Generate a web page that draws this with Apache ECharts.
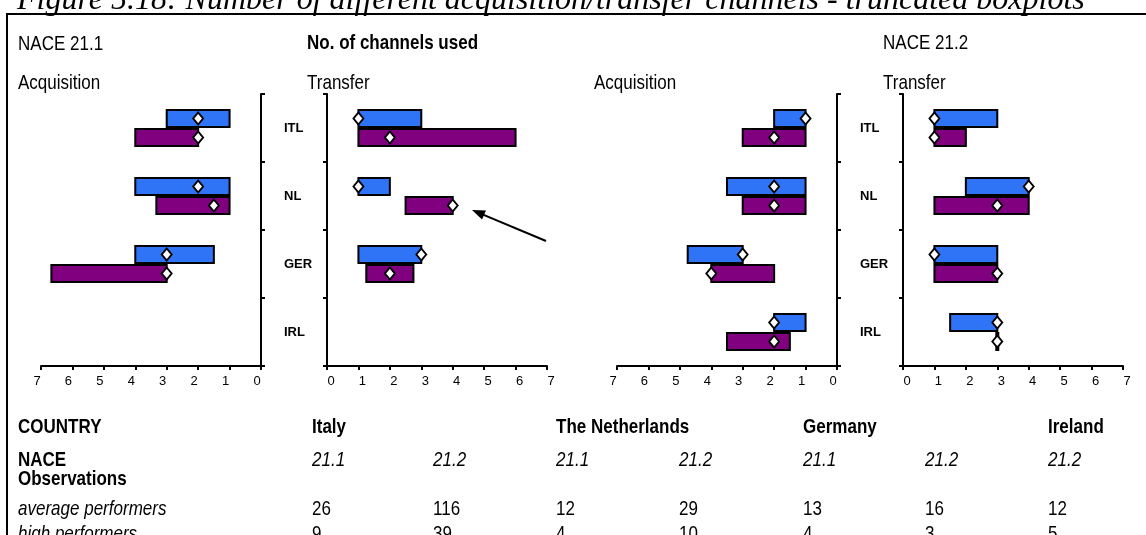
<!DOCTYPE html>
<html>
<head>
<meta charset="utf-8">
<title>Number of different acquisition/transfer channels</title>
<script src="https://cdn.jsdelivr.net/npm/echarts@6/dist/echarts.min.js"></script>
<style>
  html, body { margin: 0; padding: 0; background: #fff; }
  #chart { width: 1146px; height: 535px; }
</style>
</head>
<body>
<div id="chart"></div>
<script>
// Countries on the category axes (top to bottom)
const categories = ['ITL', 'NL', 'GER', 'IRL'];

// Truncated boxplots: [lower quartile, upper quartile, median] per country, null = no data
// Blue: average performers, purple: high performers
const acq211Average = [[1, 3, 2], [1, 4, 2], [1.5, 4, 3], null];
const acq211High    = [[2, 4, 2], [1, 3.33, 1.5], [3, 6.67, 3], null];
const trf211Average = [[1, 3, 1], [1, 2, 1], [1, 3, 3], null];
const trf211High    = [[1, 6, 2], [2.5, 4, 4], [1.25, 2.75, 2], null];
const acq212Average = [[1, 2, 1], [1, 3.5, 2], [3, 4.75, 3], [1, 2, 2]];
const acq212High    = [[1, 3, 2], [1, 3, 2], [2, 4, 4], [1.5, 3.5, 2]];
const trf212Average = [[1, 3, 1], [2, 4, 4], [1, 3, 1], [1.5, 3, 3]];
const trf212High    = [[1, 2, 1], [1, 4, 3], [1, 3, 3], [3, 3, 3]];

// Observation counts table
const tableColumnsX   = [312, 433, 556, 679, 803, 925, 1048];
const countryHeaders  = ['Italy', '', 'The Netherlands', '', 'Germany', '', 'Ireland'];
const naceCodes       = ['21.1', '21.2', '21.1', '21.2', '21.1', '21.2', '21.2'];
const avgPerformers   = [26, 116, 12, 29, 13, 16, 12];
const highPerformers  = [9, 39, 4, 10, 4, 3, 5];

const BLUE = '#2f74f6';
const PURPLE = '#800080';
const NARROW = 0.81;            // horizontal squeeze for the condensed captions
const SANS = '"Liberation Sans", Arial, sans-serif';

const panels = [
  { left: 41,  inverse: true,  side: 'right', labels: false, groups: [acq211Average, acq211High] },
  { left: 327, inverse: false, side: 'left',  labels: true,  groups: [trf211Average, trf211High] },
  { left: 617, inverse: true,  side: 'right', labels: false, groups: [acq212Average, acq212High] },
  { left: 903, inverse: false, side: 'left',  labels: true,  groups: [trf212Average, trf212High] }
];

function boxData(arr) {
  return arr.map((d, i) => d ? [d[0], d[1], i] : null).filter(Boolean);
}
function medianData(arr) {
  return arr.map((d, i) => d ? [d[2], i] : null).filter(Boolean);
}

// Draws one quartile box, above (dir = -1) or below (dir = 1) the category centre
function boxRenderer(dir, color) {
  return function (params, api) {
    const cat = api.value(2);
    const p0 = api.coord([api.value(0), cat]);
    const p1 = api.coord([api.value(1), cat]);
    const band = api.size([0, 1])[1];
    const h = band * 0.25;
    let x = Math.min(p0[0], p1[0]);
    let w = Math.abs(p1[0] - p0[0]);
    if (w < 2) { x = (p0[0] + p1[0]) / 2 - 1; w = 2; }
    const y = dir < 0 ? p0[1] - 1 - h : p0[1] + 1;
    return {
      type: 'rect',
      shape: { x: x, y: y, width: w, height: h },
      style: { fill: color, stroke: '#000', lineWidth: 2 }
    };
  };
}

const grid = [], xAxis = [], yAxis = [], series = [];

panels.forEach((p, k) => {
  grid.push({ left: p.left, top: 94, width: 220, height: 272 });
  xAxis.push({
    type: 'value', gridIndex: k, min: 0, max: 7, interval: 1, inverse: p.inverse,
    axisLine: { show: true, lineStyle: { color: '#000', width: 2 } },
    axisTick: { show: true, length: 4, lineStyle: { color: '#000', width: 2 } },
    splitLine: { show: false },
    axisLabel: {
      color: '#000', fontSize: 13, fontFamily: SANS, margin: 9,
      padding: p.inverse ? [0, 8, 0, 0] : [0, 0, 0, 8]
    }
  });
  yAxis.push({
    type: 'category', gridIndex: k, data: categories, inverse: true, position: p.side,
    axisLine: { show: true, lineStyle: { color: '#000', width: 2 } },
    axisTick: { show: true, length: 4, lineStyle: { color: '#000', width: 2 } },
    splitLine: { show: false },
    axisLabel: {
      show: p.labels, color: '#000', fontSize: 13, fontWeight: 'bold', fontFamily: SANS,
      align: 'left', margin: 43
    }
  });
  p.groups.forEach((g, j) => {
    const dir = j === 0 ? -1 : 1;
    const color = j === 0 ? BLUE : PURPLE;
    series.push({
      type: 'custom', xAxisIndex: k, yAxisIndex: k,
      renderItem: boxRenderer(dir, color),
      encode: { x: [0, 1], y: 2 },
      data: boxData(g), silent: true, z: 2
    });
    series.push({
      type: 'scatter', xAxisIndex: k, yAxisIndex: k,
      symbol: 'diamond', symbolSize: [10, 12], symbolOffset: [0, dir * 9.5],
      itemStyle: { color: '#fff', borderColor: '#000', borderWidth: 1.8, opacity: 1 },
      data: medianData(g), silent: true, z: 5
    });
  });
});

function caption(x, y, text, opts) {
  opts = opts || {};
  return {
    type: 'text', x: x, y: y, scaleX: NARROW, silent: true, z: 10,
    style: {
      text: String(text),
      font: (opts.italic ? 'italic ' : '') + (opts.bold ? 'bold ' : '') + '21px ' + SANS,
      fill: '#000', align: 'left', verticalAlign: 'middle'
    }
  };
}

const graphic = [
  // figure caption, partly cut by the page edge
  { type: 'text', x: 17, y: 17, silent: true,
    style: { text: 'Figure 5.18: Number of different acquisition/transfer channels - truncated boxplots',
             font: 'italic 32px "Liberation Serif", "Times New Roman", serif', fill: '#000',
             align: 'left', verticalAlign: 'bottom' } },
  // frame lines
  { type: 'rect', shape: { x: 6, y: 13, width: 1140, height: 2 }, style: { fill: '#fff' }, silent: true, z: 1 },
  { type: 'line', shape: { x1: 6, y1: 14, x2: 1146, y2: 14 }, style: { stroke: '#000', lineWidth: 2 }, silent: true, z: 2 },
  { type: 'line', shape: { x1: 7, y1: 14, x2: 7, y2: 535 }, style: { stroke: '#000', lineWidth: 2 }, silent: true },
  // headings
  caption(18, 44, 'NACE 21.1'),
  caption(307, 43, 'No. of channels used', { bold: true }),
  caption(883, 43, 'NACE 21.2'),
  caption(18, 83, 'Acquisition'),
  caption(307, 83, 'Transfer'),
  caption(594, 83, 'Acquisition'),
  caption(883, 83, 'Transfer'),
  // arrow pointing at the NL transfer box
  { type: 'line', shape: { x1: 546, y1: 241, x2: 483, y2: 214.6 }, style: { stroke: '#000', lineWidth: 2 }, silent: true },
  { type: 'polygon', shape: { points: [[472, 210], [486, 210.4], [482, 219.6]] }, style: { fill: '#000' }, silent: true },
  // table row headings
  caption(18, 427, 'COUNTRY', { bold: true }),
  caption(18, 460, 'NACE', { bold: true }),
  caption(18, 479, 'Observations', { bold: true }),
  caption(18, 509, 'average performers', { italic: true }),
  caption(18, 534, 'high performers', { italic: true })
];

tableColumnsX.forEach((x, i) => {
  if (countryHeaders[i]) graphic.push(caption(x, 427, countryHeaders[i], { bold: true }));
  graphic.push(caption(x, 460, naceCodes[i], { italic: true }));
  graphic.push(caption(x, 509, avgPerformers[i]));
  graphic.push(caption(x, 534, highPerformers[i]));
});

const chart = echarts.init(document.getElementById('chart'), null, { renderer: 'canvas' });
chart.setOption({
  animation: false,
  backgroundColor: '#fff',
  grid: grid,
  xAxis: xAxis,
  yAxis: yAxis,
  series: series,
  graphic: graphic
});
</script>
</body>
</html>
